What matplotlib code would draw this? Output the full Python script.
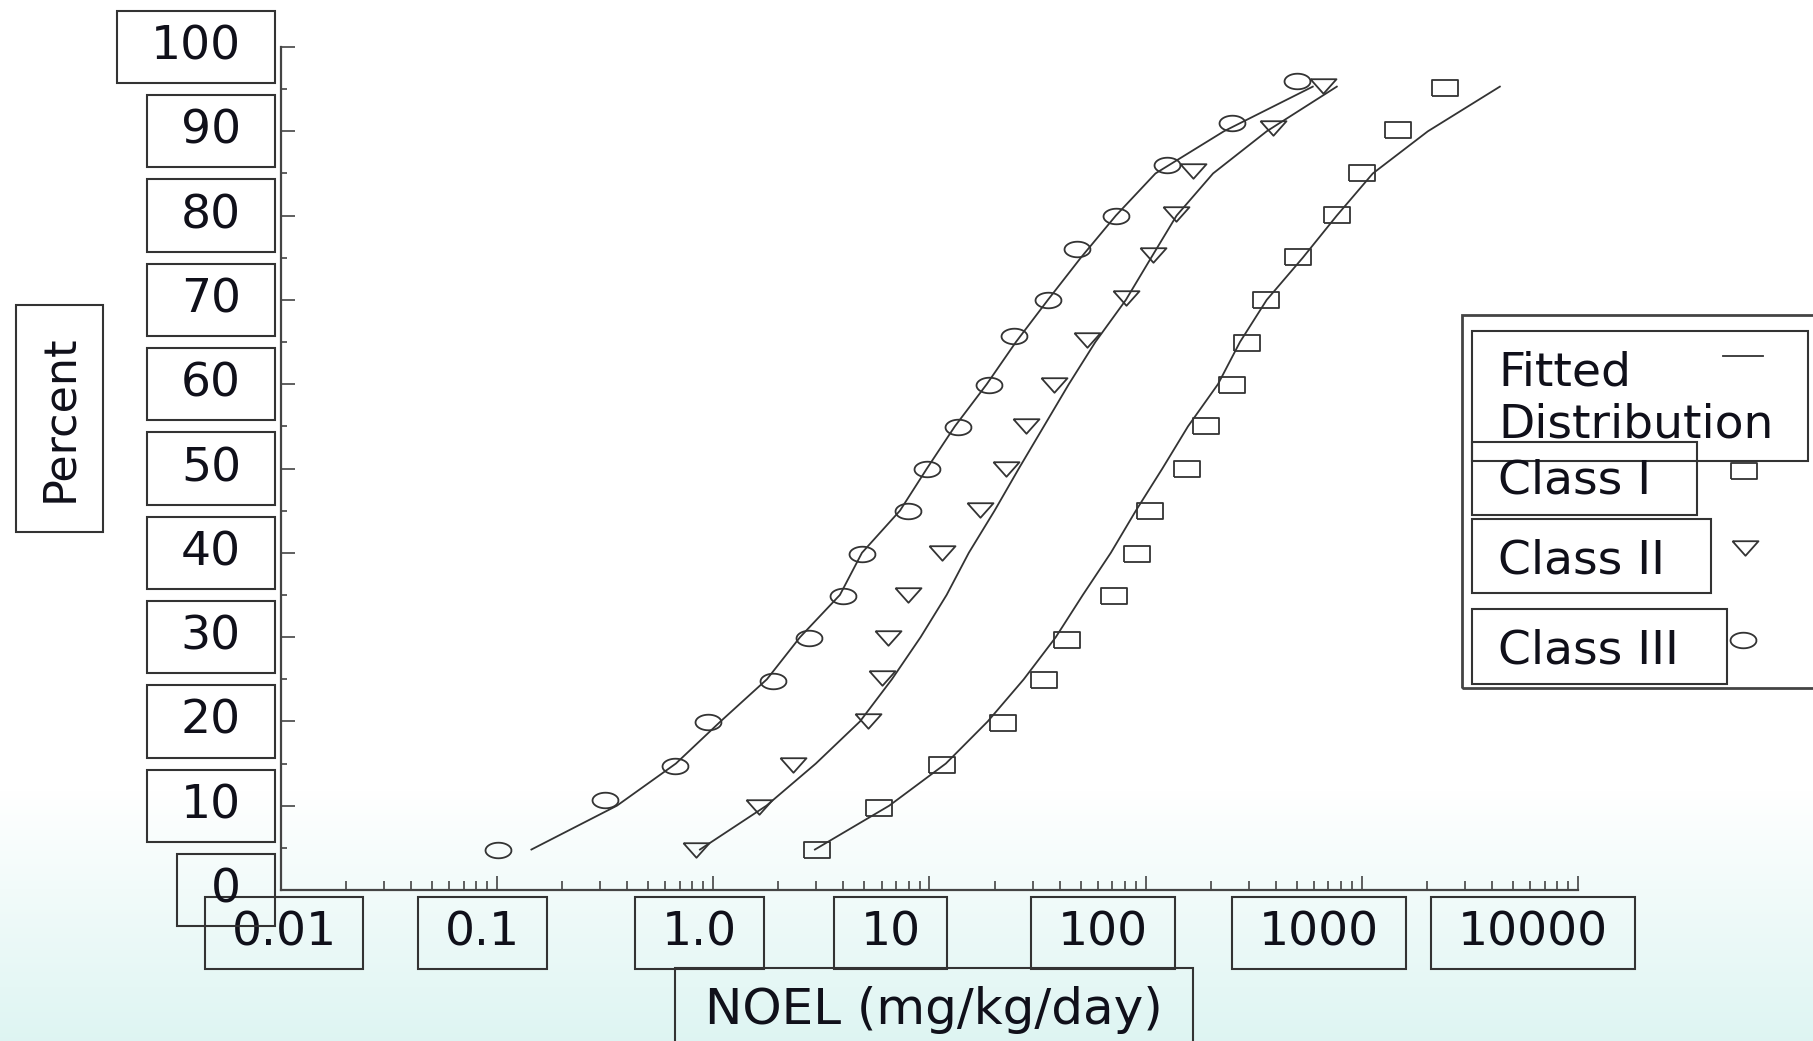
import numpy as np
import matplotlib.pyplot as plt
from matplotlib.path import Path
from matplotlib.lines import Line2D
from matplotlib.patches import Rectangle
from matplotlib.ticker import LogLocator, NullFormatter

plt.rcParams['font.family'] = ['DejaVu Sans']

# values (percent vs NOEL, mg/kg/day)
pct_1 = [4.8, 9.7, 14.8, 19.8, 24.9, 29.7, 34.9, 39.9, 45.0, 49.9, 55.0, 59.9, 64.9, 70.0, 75.1, 80.1, 85.1, 90.2, 95.1]
noel_1 = [3.02, 5.85, 11.4, 21.8, 33.9, 43.1, 71.3, 90.8, 104.5, 154.5, 189.8, 249.5, 294.6, 362, 506, 769, 1007, 1472, 2421]

pct_2 = [4.8, 9.8, 14.8, 20.0, 25.1, 29.9, 35.0, 40.0, 45.1, 49.9, 55.0, 59.9, 65.2, 70.2, 75.3, 80.2, 85.3, 90.4, 95.4]
noel_2 = [0.831, 1.63, 2.33, 5.21, 6.0, 6.44, 7.97, 11.4, 17.2, 22.7, 28.1, 37.6, 53.6, 80.7, 108, 138, 165, 389, 658]

pct_3 = [4.8, 10.7, 14.7, 19.9, 24.8, 29.9, 34.9, 39.9, 45.0, 49.9, 54.9, 59.9, 65.7, 70.0, 76.0, 80.0, 86.0, 91.0, 96.0]
noel_3 = [0.101, 0.315, 0.664, 0.946, 1.89, 2.78, 3.99, 4.85, 7.97, 9.76, 13.6, 18.9, 24.6, 35.4, 48.2, 72.8, 125, 250, 499]

fit_pct = [4.8, 10, 15, 20, 25, 30, 35, 40, 45, 50, 55, 60, 65, 70, 75, 80, 85, 90, 95.3]
fit_1 = [2.95, 6.51, 11.9, 18.6, 27.3, 38.4, 51.2, 69.0, 90.1, 119.5, 157, 216, 273, 363, 533, 766, 1124, 2020, 4350]
fit_2 = [0.867, 1.76, 2.98, 4.77, 6.7, 9.1, 12.0, 15.2, 20.0, 25.9, 33.8, 44.1, 58.5, 81.0, 106, 139, 205, 363, 766]
fit_3 = [0.144, 0.358, 0.671, 1.08, 1.77, 2.52, 3.85, 4.87, 7.30, 9.73, 13.1, 18.4, 25.1, 35.3, 50.1, 72.8, 111, 230, 593]

x_ticks = [0.01, 0.1, 1, 10, 100, 1000, 10000]
x_tick_labels = ['0.01', '0.1', '1.0', '10', '100', '1000', '10000']
y_ticks = list(range(0, 101, 10))
legend_labels = ['Fitted\nDistribution', 'Class I', 'Class II', 'Class III']

W, H = 1813, 1041
INK = '#333333'
TXT = '#10101a'


def fxy(x, y):
    # pixel position from top-left -> figure fraction
    return x / W, 1 - y / H


def box_style(hpad, vpad):
    def style(x0, y0, width, height, mutation_size):
        hp, vp = hpad * mutation_size, vpad * mutation_size
        return Path([(x0 - hp, y0 - vp), (x0 + width + hp, y0 - vp),
                     (x0 + width + hp, y0 + height + vp), (x0 - hp, y0 + height + vp),
                     (x0 - hp, y0 - vp)], closed=True)
    return style


# the original picture is stretched sideways, so are its markers
sq = [(-1, -0.58), (1, -0.58), (1, 0.58), (-1, 0.58), (-1, -0.58)]
tri = [(-1, 0.56), (1, 0.56), (0, -0.56), (-1, 0.56)]
tt = np.linspace(0, 2 * np.pi, 41)
ell = np.column_stack([np.cos(tt), 0.6 * np.sin(tt)])
mk = dict(ls='none', ms=18.7, mfc='none', mec=INK, mew=1.3)

fig = plt.figure(figsize=(W / 100, H / 100), dpi=100)

# faint teal fade at the bottom
bg = fig.add_axes([0, 0, 1, 1], zorder=-10)
rows = np.arange(H)
t = np.clip((rows - 790) / (H - 790), 0, 1)
top = np.array([1.0, 1.0, 1.0])
bot = np.array([0.87, 0.96, 0.95])
grad = top + (bot - top) * t[:, None]
bg.imshow(grad[:, None, :], aspect='auto', extent=[0, 1, 0, 1])
bg.axis('off')

ax = fig.add_axes([281 / W, 1 - 890 / H, (1578 - 281) / W, (890 - 47) / H])
ax.set_facecolor('none')
ax.set_xscale('log')
ax.set_xlim(0.01, 10000)
ax.set_ylim(0, 100)

ax.plot(fit_1, fit_pct, color=INK, lw=1.3)
ax.plot(fit_2, fit_pct, color=INK, lw=1.3)
ax.plot(fit_3, fit_pct, color=INK, lw=1.3)
ax.plot(noel_1, pct_1, marker=sq, **mk)
ax.plot(noel_2, pct_2, marker=tri, **mk)
ax.plot(noel_3, pct_3, marker=ell, **mk)

for s in ['top', 'right']:
    ax.spines[s].set_visible(False)
for s in ['left', 'bottom']:
    ax.spines[s].set_color('#444444')
    ax.spines[s].set_linewidth(1.6)

ax.set_xticks(x_ticks)
ax.xaxis.set_minor_locator(LogLocator(base=10, subs=range(2, 10), numticks=20))
ax.xaxis.set_minor_formatter(NullFormatter())
ax.set_yticks(y_ticks)
ax.set_yticks(np.arange(5, 100, 10), minor=True)
ax.tick_params(which='both', direction='in', color='#444444', width=1.2,
               labelleft=False, labelbottom=False)
ax.tick_params(axis='x', which='major', length=10)
ax.tick_params(axis='x', which='minor', length=6.5)
ax.tick_params(axis='y', which='major', length=10)
ax.tick_params(axis='y', which='minor', length=4.5)

# boxed tick labels
box_kw = dict(fc='none', ec=INK, lw=1.5)
x_label_dx = [3, -15, -14, -39, -43, -43, -45]
for v, lab, dx in zip(x_ticks, x_tick_labels, x_label_dx):
    ax.annotate(lab, xy=(v, 0), xycoords=('data', 'axes fraction'),
                xytext=(dx, -43), textcoords='offset pixels',
                ha='center', va='center', fontsize=34, color=TXT,
                bbox=dict(boxstyle=box_style(0.57, 0.29), **box_kw),
                annotation_clip=False)
for v in y_ticks:
    ax.annotate(str(v), xy=(0, v), xycoords=('axes fraction', 'data'),
                xytext=(-40, 0), textcoords='offset pixels',
                ha='right', va='center', fontsize=34, color=TXT,
                bbox=dict(boxstyle=box_style(0.71, 0.29), **box_kw),
                annotation_clip=False)

fig.text(*fxy(59.5, 418.5), 'Percent', rotation=90, ha='center', va='center',
         fontsize=32, color=TXT, bbox=dict(boxstyle=box_style(0.66, 0.5), **box_kw))
fig.text(*fxy(934, 1010), 'NOEL (mg/kg/day)', ha='center', va='center',
         fontsize=36, color=TXT, bbox=dict(boxstyle=box_style(0.6, 0.36), **box_kw))

# legend, drawn by hand as in the original
x0, y0 = fxy(1462, 688)
fig.add_artist(Rectangle((x0, y0), (1840 - 1462) / W, (688 - 315) / H,
                         transform=fig.transFigure, fill=False, ec='#444444', lw=2))
legend_boxes = [(1472, 331, 1808, 461), (1472, 442, 1697, 515),
                (1472, 519, 1711, 593), (1472, 609, 1727, 684)]
legend_base = [438, 494, 573, 663]  # baseline of each label's last line
for (l, tp, r, b), lab, yb in zip(legend_boxes, legend_labels, legend_base):
    bx, by = fxy(l, b)
    fig.add_artist(Rectangle((bx, by), (r - l) / W, (b - tp) / H,
                             transform=fig.transFigure, fill=False, ec=INK, lw=1.5))
    fig.text(*fxy(1498, yb), lab, ha='left', va='baseline', fontsize=34,
             color=TXT, linespacing=1.2)

lx0, ly = fxy(1723, 356)
lx1, _ = fxy(1763, 356)
fig.add_artist(Line2D([lx0, lx1], [ly, ly], transform=fig.transFigure, color=INK, lw=1.3))
for m, (px, py) in zip([sq, tri, ell], [(1744, 471), (1745, 548), (1743, 640)]):
    mx, my = fxy(px, py)
    fig.add_artist(Line2D([mx], [my], transform=fig.transFigure, marker=m, **mk))

fig.savefig('out.png', dpi=100)
